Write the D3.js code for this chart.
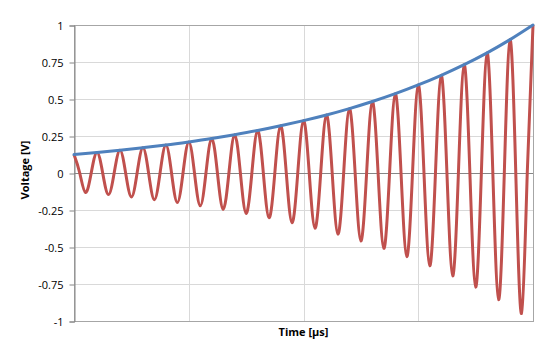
<!DOCTYPE html>
<html>
<head>
<meta charset="utf-8">
<script src="https://cdn.jsdelivr.net/npm/d3@7"></script>
<style>
  body { margin: 0; background: #fff; }
  text { font-family: "Open Sans", "Liberation Sans", sans-serif; }
</style>
</head>
<body>
<div id="chart"></div>
<script>
// time in µs (quarter-period samples) and voltage
const signalTime = [0, 0.25, 0.5, 0.75, 1, 1.25, 1.5, 1.75, 2, 2.25, 2.5, 2.75, 3, 3.25, 3.5, 3.75,
  4, 4.25, 4.5, 4.75, 5, 5.25, 5.5, 5.75, 6, 6.25, 6.5, 6.75, 7, 7.25, 7.5, 7.75,
  8, 8.25, 8.5, 8.75, 9, 9.25, 9.5, 9.75, 10, 10.25, 10.5, 10.75, 11, 11.25, 11.5, 11.75,
  12, 12.25, 12.5, 12.75, 13, 13.25, 13.5, 13.75, 14, 14.25, 14.5, 14.75, 15, 15.25, 15.5, 15.75,
  16, 16.25, 16.5, 16.75, 17, 17.25, 17.5, 17.75, 18, 18.25, 18.5, 18.75, 19, 19.25, 19.5, 19.75, 20];
const signalVolt = [0.125, 0, -0.132, 0, 0.139, 0, -0.146, 0, 0.154, 0, -0.162, 0, 0.171, 0, -0.180, 0,
  0.189, 0, -0.200, 0, 0.210, 0, -0.221, 0, 0.233, 0, -0.246, 0, 0.259, 0, -0.273, 0,
  0.287, 0, -0.303, 0, 0.319, 0, -0.336, 0, 0.354, 0, -0.373, 0, 0.392, 0, -0.413, 0,
  0.435, 0, -0.459, 0, 0.483, 0, -0.509, 0, 0.536, 0, -0.565, 0, 0.595, 0, -0.627, 0,
  0.660, 0, -0.695, 0, 0.732, 0, -0.771, 0, 0.812, 0, -0.856, 0, 0.901, 0, -0.949, 0, 1.0];

const envTime = [0, 1, 2, 3, 4, 5, 6, 7, 8, 9, 10, 11, 12, 13, 14, 15, 16, 17, 18, 19, 20];
const envVolt = [0.125, 0.139, 0.154, 0.171, 0.189, 0.210, 0.233, 0.259, 0.287, 0.319, 0.354,
  0.392, 0.435, 0.483, 0.536, 0.595, 0.660, 0.732, 0.812, 0.901, 1.0];

const xGrid = [0, 5, 10, 15, 20];
const yTicks = [-1, -0.75, -0.5, -0.25, 0, 0.25, 0.5, 0.75, 1];
const yTickLabels = ["-1", "-0.75", "-0.5", "-0.25", "0", "0.25", "0.5", "0.75", "1"];

let width = 554,
    height = 362,
    margin = { top: 25, right: 21, bottom: 41, left: 74 };

let svg = d3.select("#chart")
    .append("svg")
    .attr("width", width)
    .attr("height", height);

let xScale = d3.scaleLinear()
    .domain([0, 20])
    .range([margin.left, width - margin.right]);

let yScale = d3.scaleLinear()
    .domain([-1, 1])
    .range([height - margin.bottom, margin.top]);

// gridlines
svg.append("g")
    .selectAll("line")
    .data(yTicks)
    .enter()
    .append("line")
    .attr("x1", xScale(0))
    .attr("x2", xScale(20))
    .attr("y1", d => Math.round(yScale(d)) + 0.5)
    .attr("y2", d => Math.round(yScale(d)) + 0.5)
    .attr("stroke", "#d9d9d9");

svg.append("g")
    .selectAll("line")
    .data(xGrid)
    .enter()
    .append("line")
    .attr("x1", d => Math.round(xScale(d)) + 0.5)
    .attr("x2", d => Math.round(xScale(d)) + 0.5)
    .attr("y1", yScale(1))
    .attr("y2", yScale(-1))
    .attr("stroke", "#d9d9d9");

// plot border
svg.append("rect")
    .attr("x", Math.round(xScale(0)) + 0.5)
    .attr("y", Math.round(yScale(1)) + 0.5)
    .attr("width", Math.round(xScale(20)) - Math.round(xScale(0)))
    .attr("height", Math.round(yScale(-1)) - Math.round(yScale(1)))
    .attr("fill", "none")
    .attr("stroke", "#a6a6a6");

// y axis
let yAxis = d3.axisLeft(yScale)
    .tickValues(yTicks)
    .tickSize(5)
    .tickPadding(6)
    .tickFormat((d, i) => yTickLabels[i]);

let yAxisG = svg.append("g")
    .attr("transform", `translate(${Math.round(xScale(0)) + 0.5}, 0.5)`)
    .call(yAxis);
yAxisG.selectAll("path, line").attr("stroke", "#868686");
yAxisG.selectAll("text")
    .attr("font-size", 11)
    .attr("fill", "#000")
    .style("font-family", '"Open Sans", sans-serif');

// x axis on zero line
svg.append("line")
    .attr("x1", xScale(0))
    .attr("x2", xScale(20))
    .attr("y1", Math.round(yScale(0)) + 0.5)
    .attr("y2", Math.round(yScale(0)) + 0.5)
    .attr("stroke", "#868686");

// signal
let sigLine = d3.line()
    .x((d, i) => xScale(signalTime[i]))
    .y(d => yScale(d))
    .curve(d3.curveNatural);

svg.append("path")
    .datum(signalVolt)
    .attr("d", sigLine)
    .attr("fill", "none")
    .attr("stroke", "#c0504d")
    .attr("stroke-width", 3)
    .attr("stroke-linejoin", "round");

// envelope
let envLine = d3.line()
    .x((d, i) => xScale(envTime[i]))
    .y(d => yScale(d))
    .curve(d3.curveNatural);

svg.append("path")
    .datum(envVolt)
    .attr("d", envLine)
    .attr("fill", "none")
    .attr("stroke", "#4f81bd")
    .attr("stroke-width", 3)
    .attr("stroke-linecap", "round");

// axis titles
svg.append("text")
    .attr("x", (xScale(0) + xScale(20)) / 2)
    .attr("y", 336)
    .attr("text-anchor", "middle")
    .attr("font-size", 11)
    .attr("font-weight", "bold")
    .text("Time [µs]");

svg.append("text")
    .attr("transform", "rotate(-90)")
    .attr("x", -170)
    .attr("y", 29)
    .attr("text-anchor", "middle")
    .attr("font-size", 11)
    .attr("font-weight", "bold")
    .text("Voltage [V]");
</script>
</body>
</html>
